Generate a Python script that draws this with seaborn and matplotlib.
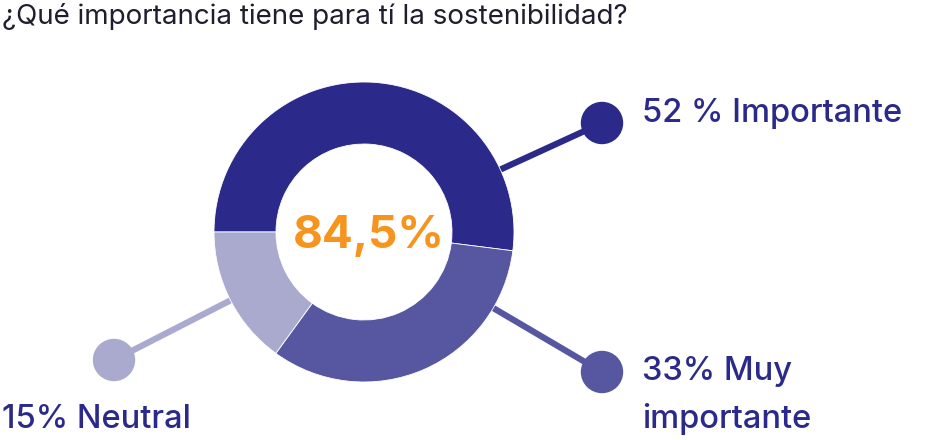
import numpy as np
import matplotlib
matplotlib.use("Agg")
import matplotlib.pyplot as plt
import seaborn as sns

# data
labels = ["52 % Importante", "33% Muy\nimportante", "15% Neutral"]
values = [52, 33, 15]
colors = ["#2B2A8A", "#5656A1", "#AAAACF"]
center_text = "84,5%"
title = "¿Qué importancia tiene para tí la sostenibilidad?"

sns.set_theme(style="white")
plt.rcParams["font.family"] = ["Inter", "DejaVu Sans"]

W, H = 938, 440
fig = plt.figure(figsize=(W / 100, H / 100), dpi=100)
ax = fig.add_axes([0, 0, 1, 1])

cx, cy = 364, H - 232
R = 150

# connector lines + dots (pixel coords, y measured from top)
dots = [(602, 123), (602, 372), (114, 360)]
for (dx, dy), col in zip(dots, colors):
    px, py = dx, H - dy
    ang = np.arctan2(py - cy, px - cx)
    sx, sy = cx + 125 * np.cos(ang), cy + 125 * np.sin(ang)
    ax.plot([sx, px], [sy, py], color=col, lw=4.5, solid_capstyle="butt", zorder=1)
    ax.add_patch(plt.Circle((px, py), 20.5, color=col, zorder=3))

ax.pie(values, colors=colors, startangle=180, counterclock=False,
       center=(cx, cy), radius=R,
       wedgeprops=dict(width=62, edgecolor="white", linewidth=0.6))

ax.text(cx + 5, cy + 1, center_text, ha="center", va="center_baseline", fontsize=33,
        fontweight="bold", color="#F7941D", zorder=4)

# label text positions: (x, baseline y from top)
label_pos = [(642, 122), (642, 380), (2, 428)]
for lab, (lx, ly) in zip(labels, label_pos):
    for i, line in enumerate(lab.split("\n")):
        ax.text(lx, H - ly - 48 * i, line, ha="left", va="baseline", fontsize=23.5,
                fontweight="medium", color="#2B2A8A")

ax.text(2, H - 24, title, ha="left", va="baseline", fontsize=20, color="#1E1E2E")

ax.set_xlim(0, W)
ax.set_ylim(0, H)
ax.set_aspect("equal")
ax.axis("off")

fig.savefig("out.png", dpi=100)
